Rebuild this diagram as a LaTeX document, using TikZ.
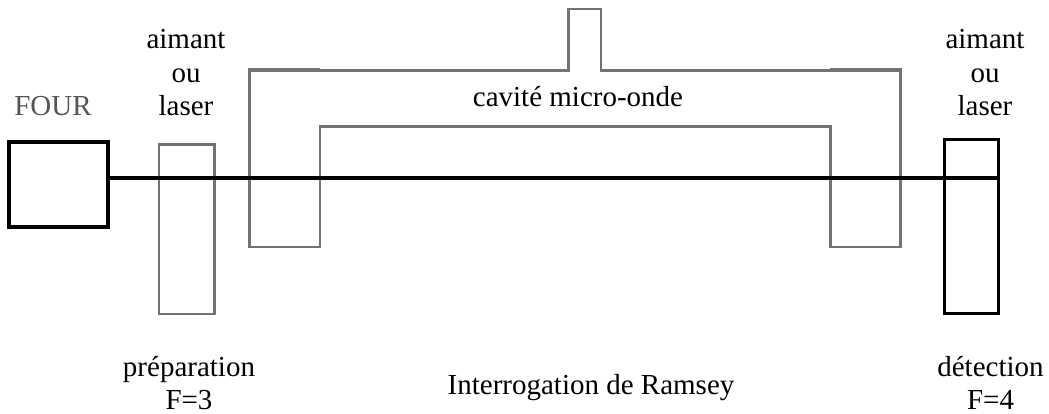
\documentclass[tikz,border=0pt]{standalone}
\usepackage{fontspec}
\setmainfont{Liberation Serif}
\definecolor{cg}{RGB}{115,115,115}
\definecolor{fourtxt}{RGB}{85,85,85}
\tikzset{
  lbl/.style={inner sep=0pt,font=\fontsize{29}{33.5}\selectfont,align=center,text=black},
  graybox/.style={draw=cg,line width=2.5pt},
  thickgray/.style={draw=cg,line width=3.4pt}
}
\begin{document}
\begin{tikzpicture}[x=1pt,y=-1pt,line join=miter]
\useasboundingbox (0,0) rectangle (1049,414);
\fill[white] (0,0) rectangle (1049,414);
\draw[graybox] (159,144.3) rectangle (214.5,314);
\draw[graybox] (249.5,70.5) -- (568.3,70.5) -- (568.3,9) -- (601,9) -- (601,70.5) -- (900.5,70.5) -- (900.5,247) -- (830.7,247) -- (830.7,126.3) -- (320,126.3) -- (320,247) -- (249.5,247) -- cycle;
\draw[thickgray] (320,70) -- (249.5,70) -- (249.5,126);
\draw[thickgray] (830,70) -- (900.5,70) -- (900.5,126);
\node[draw=black,line width=4.2pt,outer sep=0pt,minimum width=99,minimum height=85,inner sep=0pt,anchor=north west] (four) at (9,142) {};
\node[draw=black,line width=3.3pt,outer sep=0pt,minimum width=53.6,minimum height=173.7,inner sep=0pt,anchor=north west] (det) at (944.7,139.8) {};
\coordinate (lend) at (det.east |- 0,178.5);
\draw[line width=4pt] (four.east |- lend) -- (lend);
\node[lbl,text=fourtxt,anchor=base] (f) at (53,116) {FOUR};
\node[lbl] (a1) at (186,73) {aimant\\ou\\laser};
\node[lbl] (a2) at (985,73) {aimant\\ou\\laser};
\node[lbl,anchor=base] (c) at (578,107) {cavité micro-onde};
\node[lbl] (p) at (189,383) {préparation\\F=3};
\node[lbl] (d) at (990.5,383) {détection\\F=4};
\node[lbl,anchor=base] (r) at (591,394) {Interrogation de Ramsey};
\end{tikzpicture}
\end{document}
